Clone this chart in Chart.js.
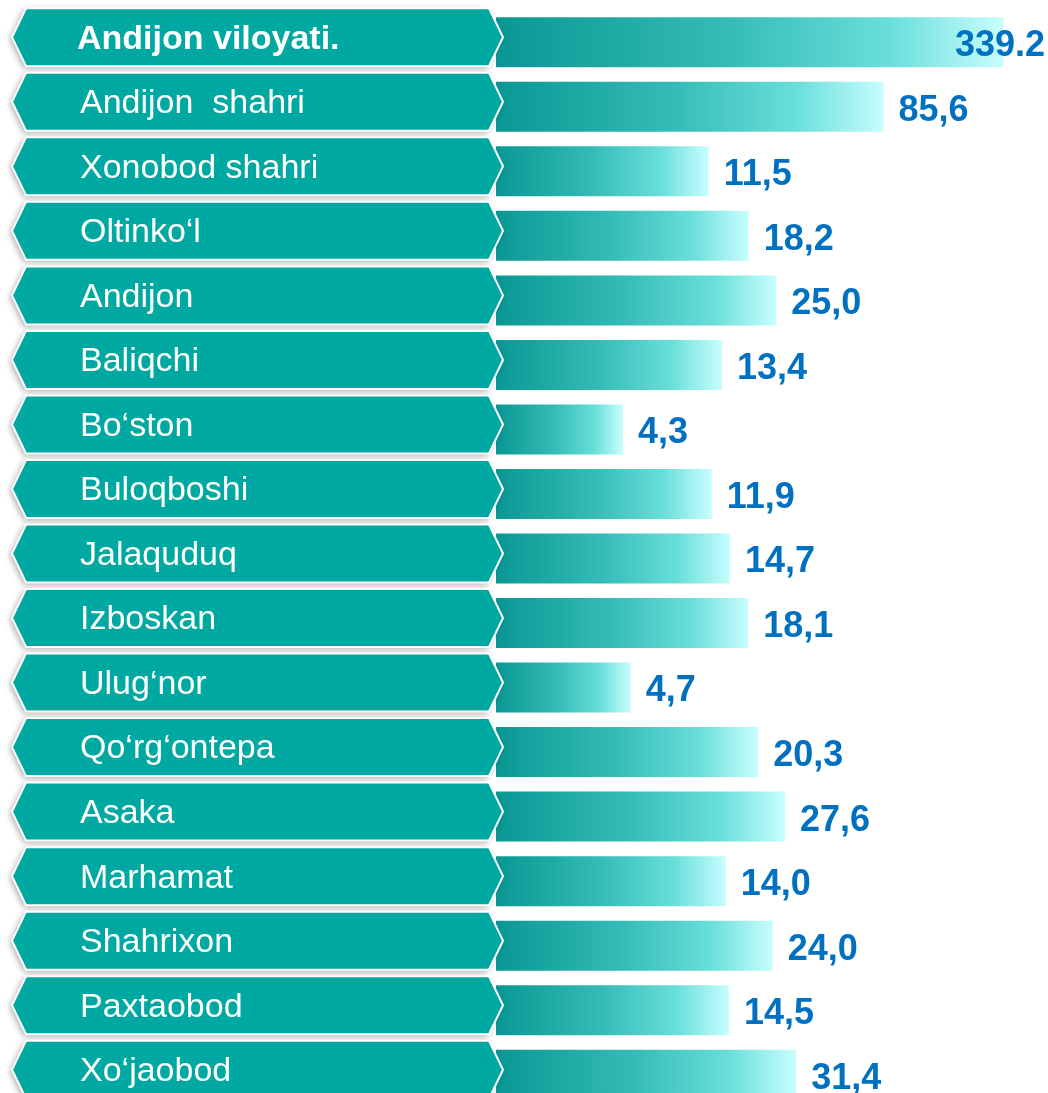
<!DOCTYPE html>
<html>
<head>
<meta charset="utf-8">
<script src="https://cdn.jsdelivr.net/npm/chart.js@4.4.0/dist/chart.umd.min.js"></script>
<style>
  html, body { margin: 0; padding: 0; background: #fff; overflow: hidden; }
  #wrap { width: 1048px; height: 1110px; position: relative; }
</style>
</head>
<body>
<div id="wrap"><canvas id="chart"></canvas></div>
<script>
// Data
const categories = [
  'Andijon viloyati.', 'Andijon  shahri', 'Xonobod shahri', 'Oltinko‘l', 'Andijon',
  'Baliqchi', 'Bo‘ston', 'Buloqboshi', 'Jalaquduq', 'Izboskan', 'Ulug‘nor',
  'Qo‘rg‘ontepa', 'Asaka', 'Marhamat', 'Shahrixon', 'Paxtaobod', 'Xo‘jaobod'
];
const values = [339.2, 85.6, 11.5, 18.2, 25.0, 13.4, 4.3, 11.9, 14.7, 18.1, 4.7, 20.3, 27.6, 14.0, 24.0, 14.5, 31.4];
const valueLabels = ['339.2', '85,6', '11,5', '18,2', '25,0', '13,4', '4,3', '11,9', '14,7', '18,1', '4,7', '20,3', '27,6', '14,0', '24,0', '14,5', '31,4'];

const FONT = '"Liberation Sans", Arial, sans-serif';

// gradient running from the bar start to its own end
function barGradient(context) {
  const chart = context.chart;
  const { ctx, chartArea, scales } = chart;
  if (!chartArea) return '#1aa9a4';
  const v = context.raw;
  const x0 = chartArea.left;
  const x1 = scales.x.getPixelForValue(v);
  const g = ctx.createLinearGradient(x0, 0, x1, 0);
  g.addColorStop(0, '#0a9793');
  g.addColorStop(0.45, '#33bbb7');
  g.addColorStop(0.78, '#6adfda');
  g.addColorStop(1, '#c8fefe');
  return g;
}

// arrow shaped category labels on the left
const labelPlates = {
  id: 'labelPlates',
  afterDatasetsDraw(chart) {
    const { ctx, scales } = chart;
    const x0 = 12, x1 = 503, tip = 14, h = 58;
    categories.forEach((name, i) => {
      const cy = scales.y.getPixelForValue(i) - 5;
      const top = cy - h / 2, bot = cy + h / 2;
      ctx.save();
      ctx.beginPath();
      ctx.moveTo(x0, cy);
      ctx.lineTo(x0 + tip, top);
      ctx.lineTo(x1 - tip, top);
      ctx.lineTo(x1, cy);
      ctx.lineTo(x1 - tip, bot);
      ctx.lineTo(x0 + tip, bot);
      ctx.closePath();
      ctx.shadowColor = 'rgba(0,0,0,0.35)';
      ctx.shadowBlur = 6;
      ctx.shadowOffsetX = -2;
      ctx.shadowOffsetY = 2;
      ctx.fillStyle = '#00a8a2';
      ctx.fill();
      ctx.shadowColor = 'transparent';
      ctx.strokeStyle = '#ffffff';
      ctx.lineWidth = 2;
      ctx.stroke();
      ctx.fillStyle = '#ffffff';
      ctx.textBaseline = 'middle';
      ctx.textAlign = 'left';
      ctx.font = (i === 0 ? 'bold ' : '') + '34px ' + FONT;
      ctx.fillText(name, i === 0 ? 77 : 80, cy + 2);
      ctx.restore();
    });
  }
};

// value labels to the right of the bars
const valueText = {
  id: 'valueText',
  afterDatasetsDraw(chart) {
    const { ctx } = chart;
    const meta = chart.getDatasetMeta(0);
    ctx.save();
    ctx.font = 'bold 36px ' + FONT;
    ctx.fillStyle = '#0070c0';
    ctx.textBaseline = 'middle';
    meta.data.forEach((bar, i) => {
      const txt = valueLabels[i];
      const w = ctx.measureText(txt).width;
      let x = bar.x + 15;
      if (x + w > 1045) x = 1045 - w;
      ctx.textAlign = 'left';
      ctx.fillText(txt, x, bar.y + 4);
    });
    ctx.restore();
  }
};

new Chart(document.getElementById('chart'), {
  type: 'bar',
  data: {
    labels: categories,
    datasets: [{
      data: values,
      backgroundColor: barGradient,
      borderWidth: 0,
      barPercentage: 0.775,
      categoryPercentage: 1
    }]
  },
  options: {
    indexAxis: 'y',
    responsive: true,
    maintainAspectRatio: false,
    animation: false,
    layout: { padding: { left: 496, top: 10, right: 0, bottom: 3 } },
    scales: {
      x: { type: 'logarithmic', min: 1, max: 566, display: false },
      y: { display: false }
    },
    plugins: {
      legend: { display: false },
      tooltip: { enabled: false }
    }
  },
  plugins: [valueText, labelPlates]
});
</script>
</body>
</html>
